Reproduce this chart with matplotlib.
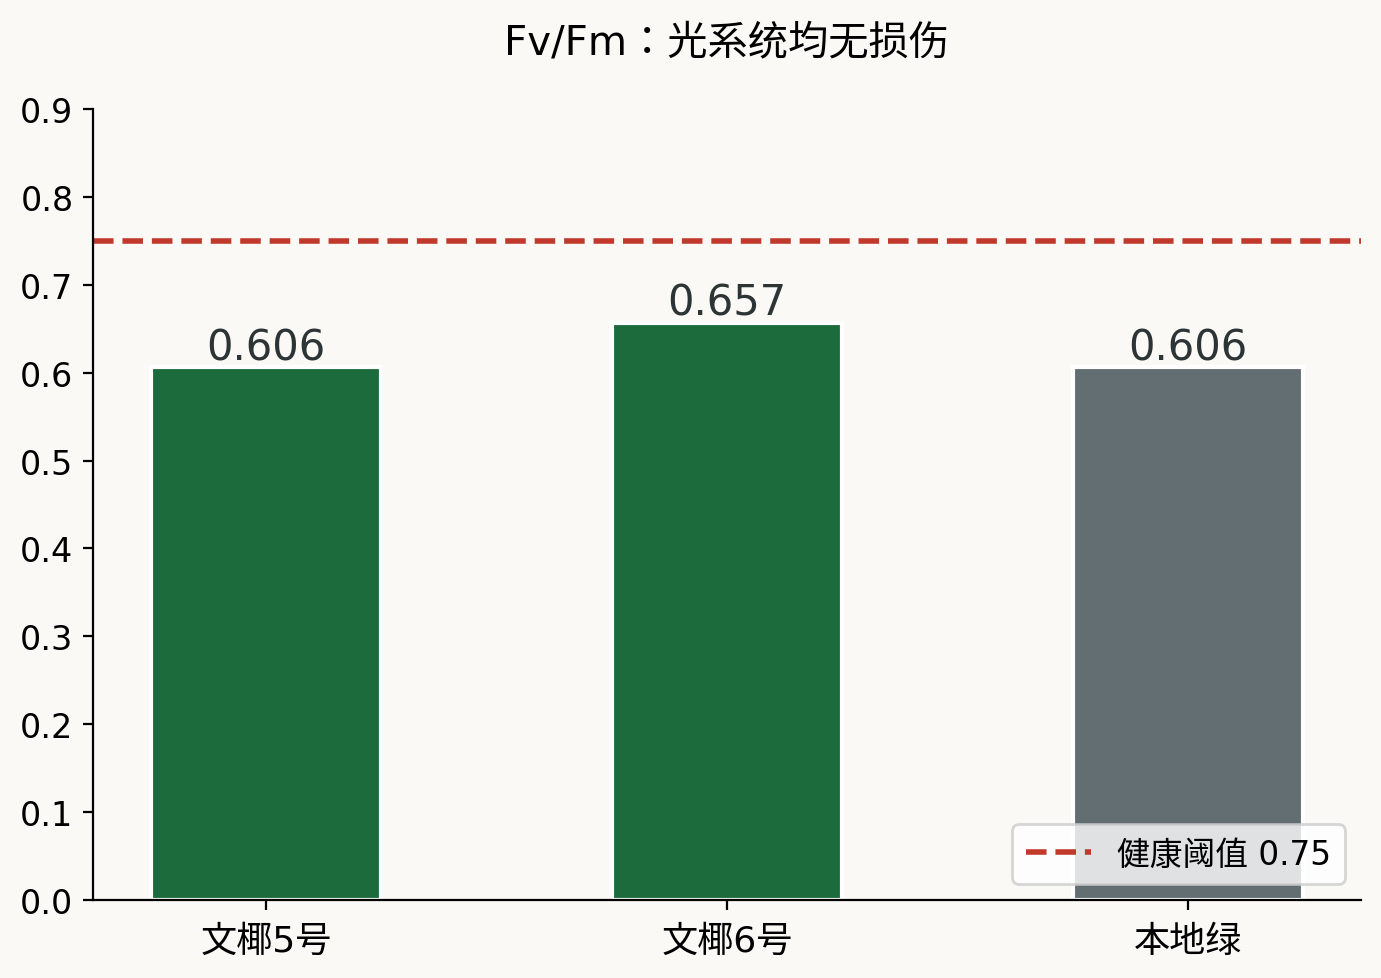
import matplotlib
matplotlib.use("Agg")
import matplotlib.pyplot as plt

plt.rcParams['font.family'] = ['DejaVu Sans', 'Noto Sans CJK JP']

# data
varieties = ['文椰5号', '文椰6号', '本地绿']
fvfm = [0.606, 0.657, 0.606]
bar_colors = ['#1b6b3c', '#1b6b3c', '#636e72']
threshold = 0.75

fig, ax = plt.subplots(figsize=(6.905, 4.895), dpi=200)
fig.patch.set_facecolor('#faf9f6')
ax.set_facecolor('#faf9f6')
fig.subplots_adjust(left=0.0673, right=0.9855, top=0.8876, bottom=0.0797)

bars = ax.bar(varieties, fvfm, width=0.5, color=bar_colors, edgecolor='white', linewidth=1.5)
for b, v in zip(bars, fvfm):
    ax.text(b.get_x() + b.get_width() / 2, v + 0.009, f'{v:.3f}', ha='center', va='baseline',
            fontsize=15, color='#2d3436')

ax.axhline(threshold, color='#c0392b', linestyle='--', linewidth=2, label=f'健康阈值 {threshold}')
ax.set_ylim(0, 0.9)
ax.set_title('Fv/Fm：光系统均无损伤', fontsize=14.5, pad=20)
ax.tick_params(axis='y', labelsize=12)
ax.tick_params(axis='x', labelsize=13, pad=5)
ax.spines['top'].set_visible(False)
ax.spines['right'].set_visible(False)
ax.legend(loc='lower right', fontsize=11.8)

fig.savefig('out.png', dpi=200, facecolor=fig.get_facecolor())
